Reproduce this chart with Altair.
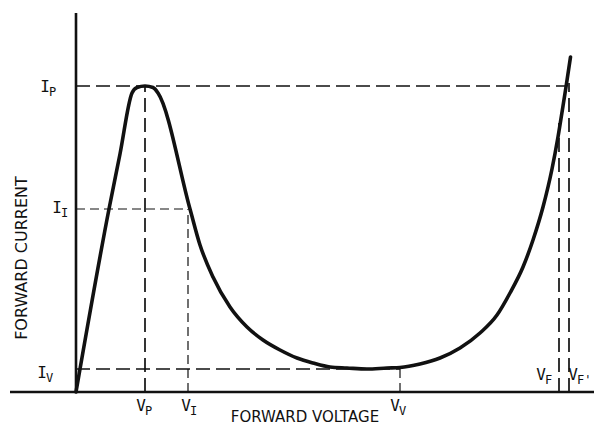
import altair as alt
import pandas as pd

# Tunnel-diode forward characteristic (arbitrary units: V right, I up)
curve_v = [0, 33, 44, 56, 61, 69, 77, 82, 114, 124, 137, 154, 171, 187, 204, 221, 237, 254, 271, 291,
           311, 324, 344, 364, 384, 404, 421, 434, 447, 457, 467, 476, 482, 487, 490, 494.5]
curve_i = [0, 183, 238, 299, 304.5, 306, 304.5, 299, 183, 147, 115, 85, 65, 52, 42, 34, 29, 25, 24, 23,
           24, 24.5, 28, 34, 44, 59, 77, 99, 125, 152, 185, 223, 255, 286, 305, 335]

# characteristic levels
I_P, I_I, I_V = 306, 183, 23
V_P, V_I, V_V, V_F, V_F2 = 69, 112, 324, 483, 493

# label texts and anchor positions (voltage, current)
lab_main = ["I", "I", "I", "V", "V", "V", "V", "V"]
lab_sub = ["P", "I", "V", "P", "I", "V", "F", "F'"]
lab_v = [-31, -19, -34, 65, 110, 319, 465, 497]
lab_i = [305, 184, 19, -14, -14, -14, 17, 17]

X_DOM = [-68, 518]
Y_DOM = [-36, 384]

xs = alt.Scale(domain=X_DOM, nice=False, zero=False)
ys = alt.Scale(domain=Y_DOM, nice=False, zero=False)

curve_df = pd.DataFrame({"v": curve_v, "i": curve_i})
curve = alt.Chart(curve_df).mark_line(
    color="#111111", strokeWidth=3.6, interpolate="monotone", strokeCap="round"
).encode(
    x=alt.X("v:Q", scale=xs, axis=None),
    y=alt.Y("i:Q", scale=ys, axis=None),
    order="v:Q",
)

# axes lines
axes_df = pd.DataFrame({
    "x1": [-66, 0], "x2": [518, 0], "y1": [0, 0], "y2": [0, 379]
})
axes = alt.Chart(axes_df).mark_rule(color="#111111", strokeWidth=2.6).encode(
    x=alt.X("x1:Q", scale=xs, axis=None), x2="x2:Q",
    y=alt.Y("y1:Q", scale=ys, axis=None), y2="y2:Q",
)

# long-dash reference lines
long_df = pd.DataFrame({
    "x1": [0, 0, V_P, V_F, V_F2],
    "x2": [489, V_V, V_P, V_F, V_F2],
    "y1": [I_P, I_V, 0, 0, 0],
    "y2": [I_P, I_V, I_P, 269, 309],
})
long_dash = alt.Chart(long_df).mark_rule(
    color="#111111", strokeWidth=1.7, strokeDash=[14, 6]
).encode(
    x=alt.X("x1:Q", scale=xs, axis=None), x2="x2:Q",
    y=alt.Y("y1:Q", scale=ys, axis=None), y2="y2:Q",
)

# fine-dash reference lines
fine_df = pd.DataFrame({
    "x1": [0, V_I, V_V],
    "x2": [V_I, V_I, V_V],
    "y1": [I_I, 0, 0],
    "y2": [I_I, I_I, I_V],
})
fine_dash = alt.Chart(fine_df).mark_rule(
    color="#111111", strokeWidth=1.2, strokeDash=[9, 5]
).encode(
    x=alt.X("x1:Q", scale=xs, axis=None), x2="x2:Q",
    y=alt.Y("y1:Q", scale=ys, axis=None), y2="y2:Q",
)

lab_df = pd.DataFrame({"v": lab_v, "i": lab_i, "main": lab_main, "sub": lab_sub})
main_txt = alt.Chart(lab_df).mark_text(
    font="DejaVu Sans Mono", fontSize=16, color="#111111", align="center", baseline="middle"
).encode(
    x=alt.X("v:Q", scale=xs, axis=None), y=alt.Y("i:Q", scale=ys, axis=None), text="main:N"
)
sub_txt = alt.Chart(lab_df).mark_text(
    font="DejaVu Sans Mono", fontSize=12, color="#111111", align="left", baseline="middle",
    dx=4, dy=5,
).encode(
    x=alt.X("v:Q", scale=xs, axis=None), y=alt.Y("i:Q", scale=ys, axis=None), text="sub:N"
)

title_df = pd.DataFrame({
    "v": [229, -54], "i": [-25, 134], "t": ["FORWARD VOLTAGE", "FORWARD CURRENT"]
})
xt = alt.Chart(title_df.iloc[[0]]).mark_text(
    font="DejaVu Sans", fontSize=15, color="#111111", align="center", baseline="middle"
).encode(
    x=alt.X("v:Q", scale=xs, axis=None), y=alt.Y("i:Q", scale=ys, axis=None), text="t:N"
)
yt = alt.Chart(title_df.iloc[[1]]).mark_text(
    font="DejaVu Sans", fontSize=16, color="#111111", align="center", baseline="middle", angle=270
).encode(
    x=alt.X("v:Q", scale=xs, axis=None), y=alt.Y("i:Q", scale=ys, axis=None), text="t:N"
)

chart = alt.layer(long_dash, fine_dash, axes, curve, main_txt, sub_txt, xt, yt).properties(
    width=586, height=420, padding=0,
    autosize=alt.AutoSizeParams(type="none"),
    background="white",
).configure_view(stroke=None)

chart.save("out.html", embed_options={"renderer": "svg", "actions": False})
